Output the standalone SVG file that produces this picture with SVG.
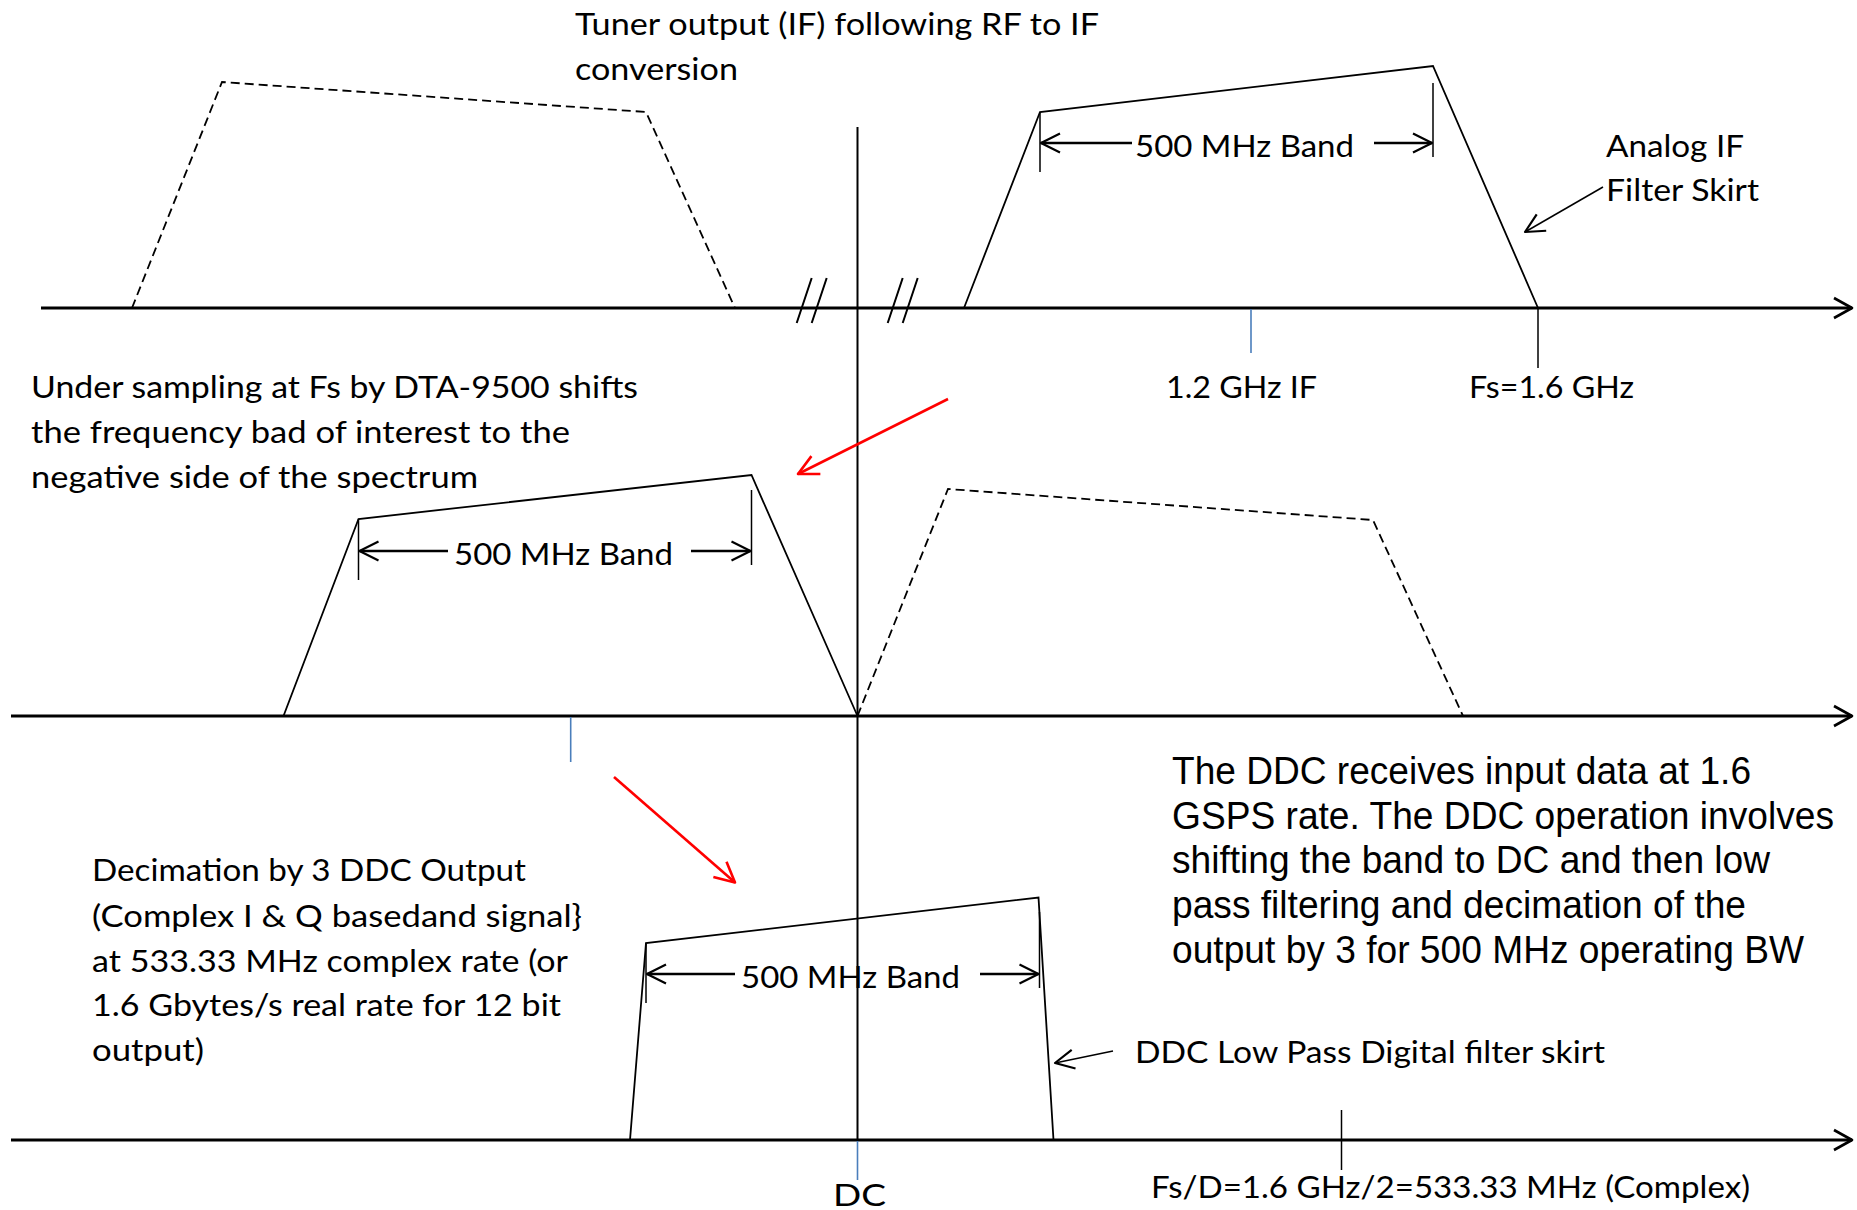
<svg xmlns="http://www.w3.org/2000/svg" width="1857" height="1210" viewBox="0 0 1857 1210">
<style>
.ln{fill:none;stroke:#000;stroke-width:1.8;stroke-linejoin:miter}
.ds{fill:none;stroke:#000;stroke-width:1.8;stroke-dasharray:9 5}
.ax{fill:none;stroke:#000;stroke-width:2.8}
.tk{fill:none;stroke:#000;stroke-width:1.5}
.bl{fill:none;stroke:#4A7EBB;stroke-width:1.6}
.da{fill:none;stroke:#000;stroke-width:2.4}
.rd{fill:none;stroke:#FF0000;stroke-width:2.6}
.cal{font-family:Lato,'Liberation Sans',sans-serif;font-size:31px;fill:#000}
.ari{font-family:'Liberation Sans',Arial,sans-serif;font-size:38px;fill:#000}
</style>
<defs>
<marker id="ah" markerUnits="userSpaceOnUse" viewBox="-25 -15 30 30" markerWidth="30" markerHeight="30" refX="0" refY="0" orient="auto" overflow="visible">
<path d="M-19,-9.5 L0,0 L-19,9.5" fill="none" stroke="#000" stroke-width="2.2" stroke-linejoin="round"/>
</marker>
<marker id="ahx" markerUnits="userSpaceOnUse" viewBox="-25 -15 30 30" markerWidth="30" markerHeight="30" refX="0" refY="0" orient="auto" overflow="visible">
<path d="M-18,-10 L0,0 L-18,10" fill="none" stroke="#000" stroke-width="2.6" stroke-linejoin="round"/>
</marker>
<marker id="ahr" markerUnits="userSpaceOnUse" viewBox="-25 -15 30 30" markerWidth="30" markerHeight="30" refX="0" refY="0" orient="auto" overflow="visible">
<path d="M-20,-10 L0,0 L-20,10" fill="none" stroke="#FF0000" stroke-width="2.6" stroke-linejoin="round"/>
</marker>
</defs>
<rect width="1857" height="1210" fill="#fff"/>

<g id="axes">
<line class="ax" x1="41" y1="308" x2="1852" y2="308" marker-end="url(#ahx)"/>
<line class="ax" x1="11" y1="716" x2="1852" y2="716" marker-end="url(#ahx)"/>
<line class="ax" x1="11" y1="1140" x2="1852" y2="1140" marker-end="url(#ahx)"/>
<line x1="857.5" y1="127" x2="857.5" y2="1140" stroke="#000" stroke-width="2"/>
<line class="bl" x1="857.5" y1="1141" x2="857.5" y2="1180"/>
<g id="breaks">
<line x1="811.7" y1="278" x2="796.7" y2="323" stroke="#000" stroke-width="2"/>
<line x1="826.7" y1="278" x2="811.7" y2="323" stroke="#000" stroke-width="2"/>
<line x1="902.7" y1="278" x2="887.7" y2="323" stroke="#000" stroke-width="2"/>
<line x1="917.7" y1="278" x2="902.7" y2="323" stroke="#000" stroke-width="2"/>
</g>
</g>

<g id="spectrum-if-image">
<polyline class="ds" points="132,308 222,82 646,112 735,308"/>
</g>
<g id="spectrum-if">
<polyline class="ln" points="964,308 1040,112 1433,66 1538,308"/>
<line class="tk" x1="1040" y1="112" x2="1040" y2="172"/>
<line class="tk" x1="1433" y1="83" x2="1433" y2="157"/>
</g>
<g id="ticks-if">
<line class="bl" x1="1251" y1="309" x2="1251" y2="353"/>
<line class="tk" x1="1538" y1="309" x2="1538" y2="368"/>
</g>

<g id="spectrum-neg">
<polyline class="ln" points="283.5,716 358.5,519 751.5,475 857.5,716"/>
<line class="tk" x1="358.5" y1="519" x2="358.5" y2="580"/>
<line class="tk" x1="751.5" y1="490" x2="751.5" y2="565"/>
<line class="bl" x1="570.7" y1="717" x2="570.7" y2="762"/>
</g>
<g id="spectrum-pos-image">
<polyline class="ds" points="857.5,716 948,489 1373,520 1463,716"/>
</g>

<g id="spectrum-ddc">
<polyline class="ln" points="630,1140 646,943 1038.5,897.5 1053.5,1140"/>
<line class="tk" x1="646" y1="943" x2="646" y2="1003"/>
<line class="tk" x1="1039.5" y1="912" x2="1039.5" y2="988"/>
<line class="tk" x1="1341.5" y1="1110" x2="1341.5" y2="1170"/>
</g>

<g id="connectors">
<line class="da" x1="1132" y1="143" x2="1041" y2="143" marker-end="url(#ah)"/>
<line class="da" x1="1374" y1="143" x2="1432" y2="143" marker-end="url(#ah)"/>
<line class="da" x1="448" y1="551" x2="359.5" y2="551" marker-end="url(#ah)"/>
<line class="da" x1="691" y1="551" x2="750.5" y2="551" marker-end="url(#ah)"/>
<line class="da" x1="735" y1="974" x2="647" y2="974" marker-end="url(#ah)"/>
<line class="da" x1="980" y1="974" x2="1038.5" y2="974" marker-end="url(#ah)"/>
<line class="tk" x1="1603" y1="187" x2="1525" y2="232" stroke-width="1.8" marker-end="url(#ah)"/>
<line class="tk" x1="1113" y1="1051" x2="1055" y2="1063" stroke-width="1.8" marker-end="url(#ah)"/>
<line class="rd" x1="948" y1="399" x2="798" y2="474" marker-end="url(#ahr)"/>
<line class="rd" x1="614" y1="777" x2="735" y2="882.5" marker-end="url(#ahr)"/>
</g>

<g id="labels">
<text class="cal" x="575" y="35" textLength="524" lengthAdjust="spacingAndGlyphs">Tuner output (IF) following RF to IF</text>
<text class="cal" x="575" y="80" textLength="163" lengthAdjust="spacingAndGlyphs">conversion</text>
<text class="cal" x="1135" y="157" textLength="219" lengthAdjust="spacingAndGlyphs">500 MHz Band</text>
<text class="cal" x="1606" y="157" textLength="138" lengthAdjust="spacingAndGlyphs">Analog IF</text>
<text class="cal" x="1606" y="201" textLength="153" lengthAdjust="spacingAndGlyphs">Filter Skirt</text>
<text class="cal" x="1166" y="398" textLength="151" lengthAdjust="spacingAndGlyphs">1.2 GHz IF</text>
<text class="cal" x="1469" y="398" textLength="165" lengthAdjust="spacingAndGlyphs">Fs=1.6 GHz</text>
<text class="cal" x="31" y="398" textLength="607" lengthAdjust="spacingAndGlyphs">Under sampling at Fs by DTA-9500 shifts</text>
<text class="cal" x="31" y="443" textLength="539" lengthAdjust="spacingAndGlyphs">the frequency bad of interest to the</text>
<text class="cal" x="31" y="488" textLength="447" lengthAdjust="spacingAndGlyphs">negative side of the spectrum</text>
<text class="cal" x="454" y="565" textLength="219" lengthAdjust="spacingAndGlyphs">500 MHz Band</text>
<text class="cal" x="92" y="881" textLength="434" lengthAdjust="spacingAndGlyphs">Decimation by 3 DDC Output</text>
<text class="cal" x="92" y="927" textLength="490" lengthAdjust="spacingAndGlyphs">(Complex I &amp; Q basedand signal}</text>
<text class="cal" x="92" y="972" textLength="476" lengthAdjust="spacingAndGlyphs">at 533.33 MHz complex rate (or</text>
<text class="cal" x="92" y="1016" textLength="469" lengthAdjust="spacingAndGlyphs">1.6 Gbytes/s real rate for 12 bit</text>
<text class="cal" x="92" y="1061" textLength="112" lengthAdjust="spacingAndGlyphs">output)</text>
<text class="cal" x="741" y="988" textLength="219" lengthAdjust="spacingAndGlyphs">500 MHz Band</text>
<text class="cal" x="1135" y="1063" textLength="470" lengthAdjust="spacingAndGlyphs">DDC Low Pass Digital filter skirt</text>
<text class="cal" x="1151" y="1198" textLength="599" lengthAdjust="spacingAndGlyphs">Fs/D=1.6 GHz/2=533.33 MHz (Complex)</text>
<text class="cal" x="833" y="1206" font-size="44" textLength="53" lengthAdjust="spacingAndGlyphs">DC</text>
</g>
<g id="ddc-note">
<text class="ari" x="1172" y="784" textLength="579" lengthAdjust="spacingAndGlyphs">The DDC receives input data at 1.6</text>
<text class="ari" x="1172" y="829" textLength="662" lengthAdjust="spacingAndGlyphs">GSPS rate. The DDC operation involves</text>
<text class="ari" x="1172" y="873" textLength="598" lengthAdjust="spacingAndGlyphs">shifting the band to DC and then low</text>
<text class="ari" x="1172" y="918" textLength="574" lengthAdjust="spacingAndGlyphs">pass filtering and decimation of the</text>
<text class="ari" x="1172" y="963" textLength="632" lengthAdjust="spacingAndGlyphs">output by 3 for 500 MHz operating BW</text>
</g>
</svg>
